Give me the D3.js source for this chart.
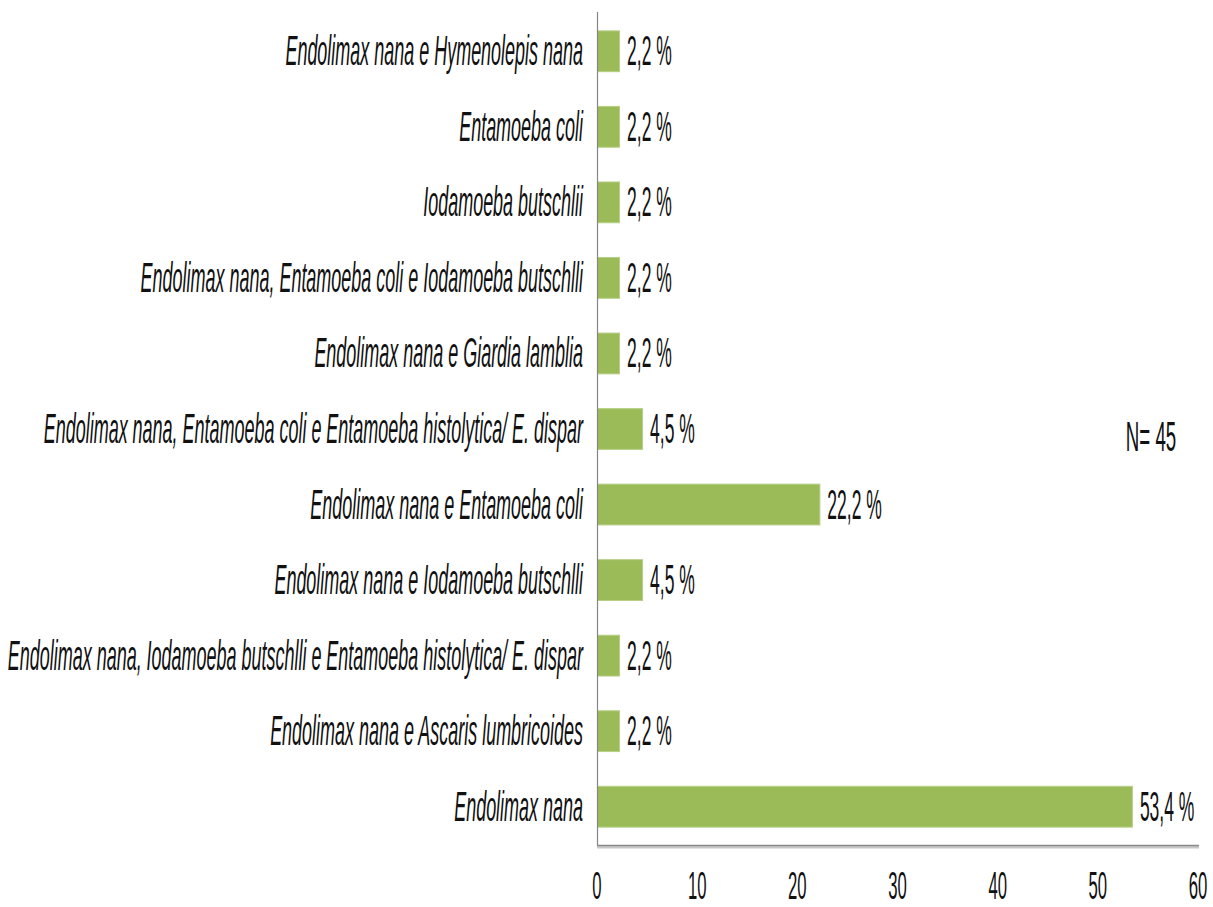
<!DOCTYPE html>
<html><head><meta charset="utf-8">
<script src="https://cdn.jsdelivr.net/npm/d3@7"></script>
<style>body{margin:0;background:#fff}svg{display:block}text{font-family:"Liberation Sans",Arial,sans-serif;fill:#111}</style>
</head><body><svg id="c" width="1213" height="907"></svg>
<script>
const categories = [
  "Endolimax nana e Hymenolepis nana",
  "Entamoeba coli",
  "Iodamoeba butschlii",
  "Endolimax nana, Entamoeba coli e Iodamoeba butschlli",
  "Endolimax nana e Giardia lamblia",
  "Endolimax nana, Entamoeba coli e Entamoeba histolytica/ E. dispar",
  "Endolimax nana e Entamoeba coli",
  "Endolimax nana e Iodamoeba butschlli",
  "Endolimax nana, Iodamoeba butschlli e Entamoeba histolytica/ E. dispar",
  "Endolimax nana e Ascaris lumbricoides",
  "Endolimax nana"
];
const values = [2.2, 2.2, 2.2, 2.2, 2.2, 4.5, 22.2, 4.5, 2.2, 2.2, 53.4];
const valueLabels = ["2,2 %","2,2 %","2,2 %","2,2 %","2,2 %","4,5 %","22,2 %","4,5 %","2,2 %","2,2 %","53,4 %"];
const xTicks = [0, 10, 20, 30, 40, 50, 60];
const note = "N= 45";

const svg = d3.select("#c");
const x = d3.scaleLinear().domain([0, 60]).range([597, 1198]);
const y = d3.scaleBand().domain(categories).range([12, 846]).paddingInner(0.46).paddingOuter(0.25);
const FS = 43;

// bars
svg.append("g").selectAll("rect").data(values).join("rect")
  .attr("x", x(0) + 0.5)
  .attr("y", (d, i) => y(categories[i]))
  .attr("width", d => x(d) - x(0))
  .attr("height", y.bandwidth())
  .attr("fill", "#9bbb59")
  .attr("stroke", "#b5cf85").attr("stroke-width", 1);

// axes lines
svg.append("line").attr("x1", 597.5).attr("x2", 597.5).attr("y1", 12).attr("y2", 846)
  .attr("stroke", "#868686").attr("stroke-width", 1.2);
svg.append("line").attr("x1", 597).attr("x2", 1199).attr("y1", 847).attr("y2", 847)
  .attr("stroke", "#c8c8c8").attr("stroke-width", 3);
svg.append("line").attr("x1", 597).attr("x2", 1199).attr("y1", 845.5).attr("y2", 845.5)
  .attr("stroke", "#8a8a8a").attr("stroke-width", 1.3);

// category labels
svg.append("g").selectAll("text").data(categories).join("text")
  .attr("transform", d => `translate(583,${y(d) + y.bandwidth() / 2 + 14}) scale(0.418,1)`)
  .attr("text-anchor", "end").attr("font-style", "italic").attr("font-size", FS)
  .text(d => d);

// value labels
svg.append("g").selectAll("text").data(values).join("text")
  .attr("transform", (d, i) => `translate(${x(d) + 8},${y(categories[i]) + y.bandwidth() / 2 + 14}) scale(0.407,1)`)
  .attr("font-size", FS)
  .text((d, i) => valueLabels[i]);

// x tick labels
svg.append("g").selectAll("text").data(xTicks).join("text")
  .attr("transform", d => `translate(${x(d)},899) scale(0.44,1)`)
  .attr("text-anchor", "middle").attr("font-size", 38)
  .text(d => d);

svg.append("text").attr("transform", "translate(1151,451) scale(0.435,1)")
  .attr("text-anchor", "middle").attr("font-size", FS).text(note);
</script></body></html>
